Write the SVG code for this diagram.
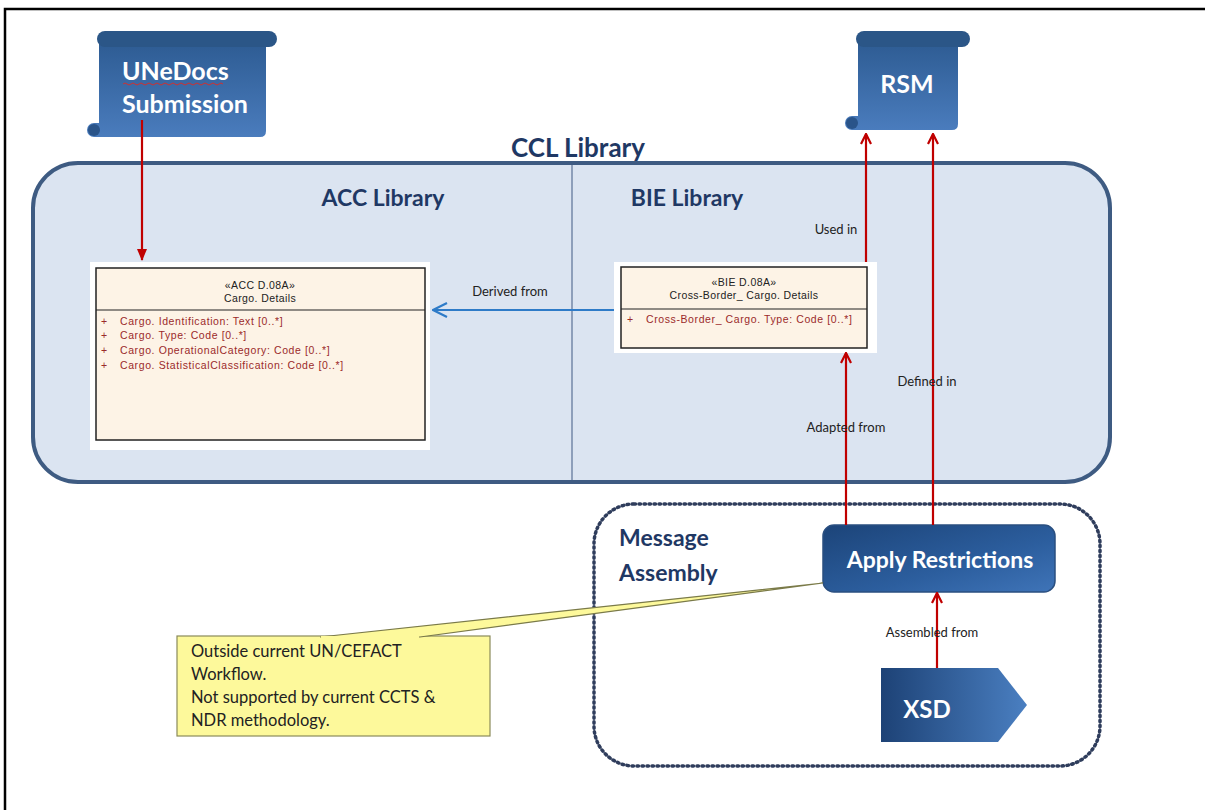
<svg xmlns="http://www.w3.org/2000/svg" width="1205" height="810" viewBox="0 0 1205 810">
<defs>
<linearGradient id="scrollG" x1="0" y1="0" x2="0" y2="1"><stop offset="0" stop-color="#2d5b92"/><stop offset="1" stop-color="#4a7cbd"/></linearGradient>
<linearGradient id="btnG" x1="0" y1="0" x2="1" y2="1"><stop offset="0" stop-color="#1c4479"/><stop offset="0.6" stop-color="#2c5e9e"/><stop offset="1" stop-color="#3f74b8"/></linearGradient>
<linearGradient id="xsdG" x1="0" y1="0" x2="1" y2="0"><stop offset="0" stop-color="#1d4276"/><stop offset="1" stop-color="#4a7fc1"/></linearGradient>
<marker id="redOpen" viewBox="0 0 12 12" refX="11" refY="6" markerWidth="12" markerHeight="12" markerUnits="userSpaceOnUse" orient="auto"><path d="M1,1 L11,6 L1,11" fill="none" stroke="#c00000" stroke-width="2.2"/></marker>
<marker id="redFill" viewBox="0 0 12 12" refX="11" refY="6" markerWidth="12" markerHeight="12" markerUnits="userSpaceOnUse" orient="auto"><path d="M0,1 L12,6 L0,11 Z" fill="#c00000"/></marker>
<marker id="blueOpen" viewBox="0 0 16 16" refX="15" refY="8" markerWidth="16" markerHeight="16" markerUnits="userSpaceOnUse" orient="auto"><path d="M1,1 L15,8 L1,15" fill="none" stroke="#2e7bc8" stroke-width="2.2"/></marker>
</defs>
<style>
.blueT{font-family:Lato,"Liberation Sans",sans-serif;font-weight:bold;fill:#1f3864}
.whiteT{font-family:Lato,"Liberation Sans",sans-serif;font-weight:bold;fill:#ffffff}
.lbl{font-family:Lato,"Liberation Sans",sans-serif;font-size:13px;fill:#222222}
.cls{font-family:"Liberation Sans",Arial,sans-serif;font-size:10.5px;letter-spacing:0.4px;fill:#222222}
.attr{font-family:"Liberation Sans",Arial,sans-serif;font-size:10.5px;letter-spacing:0.6px;fill:#9b2a2a}
.red{stroke:#c00000;stroke-width:2.2;fill:none}
.note{font-family:Lato,"Liberation Sans",sans-serif;font-size:16.5px;fill:#222222}
</style>
<rect x="0" y="0" width="1205" height="810" fill="#ffffff"/>
<path d="M5,810 L5,9 L1205,9" fill="none" stroke="#000000" stroke-width="2.5"/>

<g id="ccl-library">
<rect x="33" y="163" width="1077" height="319" rx="45" ry="45" fill="#dbe4f1" stroke="#3e5b82" stroke-width="4"/>
<line x1="572" y1="165" x2="572" y2="480" stroke="#5a7196" stroke-width="1.2"/>
<text x="578" y="157" text-anchor="middle" class="blueT" font-size="26">CCL Library</text>
<text x="383" y="206" text-anchor="middle" class="blueT" font-size="23">ACC Library</text>
<text x="687" y="206" text-anchor="middle" class="blueT" font-size="23">BIE Library</text>
</g>

<g id="message-assembly">
<rect x="594" y="504" width="506" height="262" rx="40" ry="40" fill="none" stroke="#2f3d5c" stroke-width="3.5" stroke-dasharray="1.5 3.5" stroke-linecap="round"/>
<text x="619" y="546" class="blueT" font-size="23">Message</text>
<text x="619" y="581" class="blueT" font-size="23">Assembly</text>
</g>

<g id="unedocs-submission">
<path d="M99,40 L266,40 L266,131 Q266,137 260,137 L94,137 A7,7 0 0 1 94,123 L99,123 Z" fill="url(#scrollG)"/>
<circle cx="94" cy="130" r="6" fill="#2a5489"/>
<rect x="97" y="31" width="180" height="16" rx="8" ry="8" fill="#2b5687"/>
<text x="122" y="80" class="whiteT" font-size="25">UNeDocs</text>
<path d="M123,84 q2,-2 4,0 t4,0 t4,0 t4,0 t4,0 t4,0 t4,0 t4,0 t4,0 t4,0 t4,0 t4,0 t4,0 t4,0 t4,0 t4,0 t4,0 t4,0 t4,0 t4,0 t4,0 t4,0 t4,0 t4,0 t4,0" fill="none" stroke="#d03030" stroke-width="1"/>
<text x="122" y="113" class="whiteT" font-size="25">Submission</text>
</g>

<g id="rsm">
<path d="M858,40 L958,40 L958,124 Q958,130 952,130 L852,130 A7,7 0 0 1 852,116 L858,116 Z" fill="url(#scrollG)"/>
<circle cx="852" cy="123" r="6" fill="#2a5489"/>
<rect x="856" y="31" width="114" height="16" rx="8" ry="8" fill="#2b5687"/>
<text x="907" y="93" text-anchor="middle" class="whiteT" font-size="25">RSM</text>
</g>

<g id="acc-cargo-details">
<rect x="90" y="262" width="340" height="188" fill="#ffffff"/>
<rect x="96" y="268" width="329" height="172" fill="#fdf3e6" stroke="#222222" stroke-width="1.5"/>
<line x1="96" y1="310" x2="425" y2="310" stroke="#222222" stroke-width="1.2"/>
<text x="260" y="289" text-anchor="middle" class="cls">«ACC D.08A»</text>
<text x="260" y="302" text-anchor="middle" class="cls">Cargo. Details</text>
<text x="101" y="325" class="attr">+</text><text x="120" y="325" class="attr">Cargo. Identification: Text [0..*]</text>
<text x="101" y="339" class="attr">+</text><text x="120" y="339" class="attr">Cargo. Type: Code [0..*]</text>
<text x="101" y="354" class="attr">+</text><text x="120" y="354" class="attr">Cargo. OperationalCategory: Code [0..*]</text>
<text x="101" y="369" class="attr">+</text><text x="120" y="369" class="attr">Cargo. StatisticalClassification:  Code [0..*]</text>
</g>

<g id="bie-cargo-details">
<rect x="614" y="262" width="263" height="91" fill="#ffffff"/>
<rect x="621" y="267" width="246" height="81" fill="#fdf3e6" stroke="#222222" stroke-width="1.5"/>
<line x1="621" y1="309" x2="867" y2="309" stroke="#222222" stroke-width="1.2"/>
<text x="744" y="286" text-anchor="middle" class="cls">«BIE D.08A»</text>
<text x="744" y="299" text-anchor="middle" class="cls">Cross-Border_ Cargo. Details</text>
<text x="627" y="323" class="attr">+</text><text x="646" y="323" class="attr">Cross-Border_ Cargo. Type: Code [0..*]</text>
</g>

<g id="apply-restrictions">
<rect x="823" y="525" width="232" height="67" rx="11" ry="11" fill="url(#btnG)" stroke="#2a4f80" stroke-width="1.5"/>
<text x="940" y="568" text-anchor="middle" class="whiteT" font-size="23">Apply Restrictions</text>
</g>

<g id="xsd">
<path d="M881,668 L998,668 L1027,705 L998,742 L881,742 Z" fill="url(#xsdG)"/>
<text x="927" y="718" text-anchor="middle" class="whiteT" font-size="24">XSD</text>
</g>

<g id="callout">
<rect x="177" y="636" width="313" height="100" fill="#fdf99b" stroke="#8a8a5a" stroke-width="1.2"/>
<polygon points="320,637 823,583 420,637" fill="#fdf99b" stroke="#7a7a4a" stroke-width="1.2"/>
<line x1="321" y1="637" x2="419" y2="637" stroke="#fdf99b" stroke-width="2"/>
<text x="191" y="657" class="note">Outside current UN/CEFACT</text>
<text x="191" y="680" class="note">Workflow.</text>
<text x="191" y="703" class="note">Not supported by current CCTS &amp;</text>
<text x="191" y="726" class="note">NDR methodology.</text>
</g>

<g id="connectors">
<line x1="142" y1="120" x2="142" y2="260" class="red" marker-end="url(#redFill)"/>
<line x1="614" y1="310" x2="433" y2="310" stroke="#2e7bc8" stroke-width="2.2" marker-end="url(#blueOpen)"/>
<text x="510" y="296" text-anchor="middle" class="lbl">Derived from</text>
<line x1="866" y1="262" x2="866" y2="134" class="red" marker-end="url(#redOpen)"/>
<text x="836" y="234" text-anchor="middle" class="lbl">Used in</text>
<line x1="933" y1="525" x2="933" y2="134" class="red" marker-end="url(#redOpen)"/>
<text x="927" y="386" text-anchor="middle" class="lbl">Defined in</text>
<line x1="846" y1="525" x2="846" y2="353" class="red" marker-end="url(#redOpen)"/>
<text x="846" y="432" text-anchor="middle" class="lbl">Adapted from</text>
<line x1="937" y1="668" x2="937" y2="593" class="red" marker-end="url(#redOpen)"/>
<text x="932" y="637" text-anchor="middle" class="lbl">Assembled from</text>
</g>
</svg>
